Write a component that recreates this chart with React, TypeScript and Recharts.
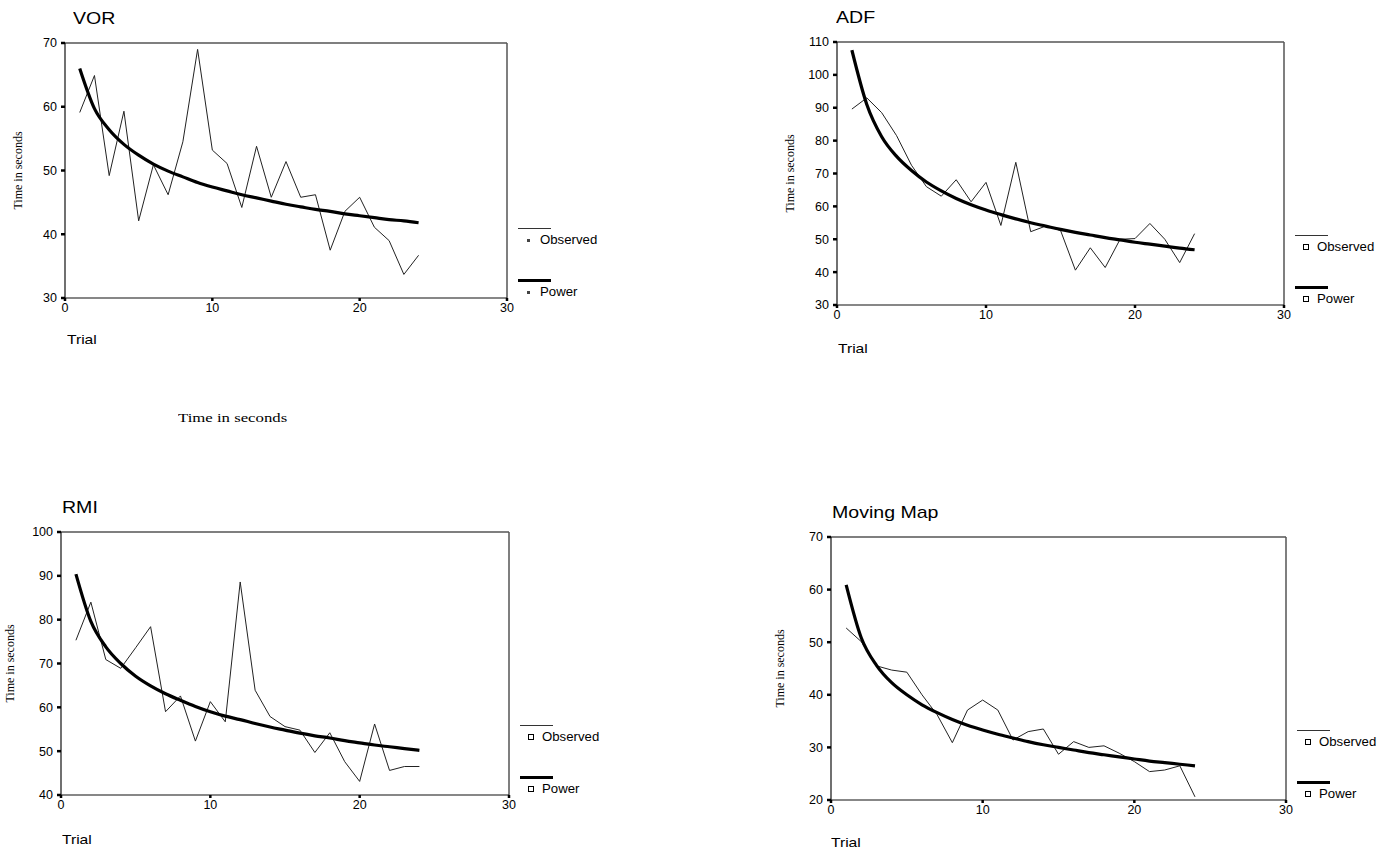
import React from 'react';
import { LineChart, Line, XAxis, YAxis, ReferenceLine } from 'recharts';

// ---------- data ----------
const trials = [1, 2, 3, 4, 5, 6, 7, 8, 9, 10, 11, 12, 13, 14, 15, 16, 17, 18, 19, 20, 21, 22, 23, 24];
const xTicks = [0, 10, 20, 30];

const vorObserved = [59.1, 64.9, 49.2, 59.3, 42.1, 50.9, 46.2, 54.5, 69.0, 53.2, 51.1, 44.2, 53.8, 45.8, 51.4, 45.8, 46.2, 37.5, 43.6, 45.8, 41.1, 39.0, 33.7, 36.7];
const vorPower = [66.0, 59.7, 56.4, 54.1, 52.4, 51.0, 49.9, 49.0, 48.1, 47.4, 46.8, 46.2, 45.7, 45.2, 44.7, 44.3, 43.9, 43.6, 43.2, 42.9, 42.6, 42.3, 42.1, 41.8];
const vorYTicks = [30, 40, 50, 60, 70];

const adfObserved = [89.6, 93.0, 88.5, 81.5, 72.5, 66.0, 63.1, 68.1, 61.4, 67.3, 54.2, 73.4, 52.3, 54.0, 52.7, 40.6, 47.4, 41.4, 50.0, 50.2, 54.8, 50.0, 42.9, 51.7];
const adfPower = [107.5, 91.0, 81.2, 75.2, 70.9, 67.4, 64.7, 62.4, 60.5, 58.9, 57.5, 56.2, 55.0, 54.0, 53.0, 52.1, 51.3, 50.5, 49.8, 49.1, 48.5, 47.9, 47.3, 46.8];
const adfYTicks = [30, 40, 50, 60, 70, 80, 90, 100, 110];

const rmiObserved = [75.3, 84.0, 70.9, 68.9, 73.6, 78.4, 59.0, 62.6, 52.3, 61.3, 56.7, 88.6, 63.9, 57.9, 55.6, 54.8, 49.7, 54.2, 47.6, 43.1, 56.2, 45.6, 46.5, 46.5];
const rmiPower = [90.4, 79.6, 73.8, 70.0, 67.1, 64.9, 63.1, 61.6, 60.2, 59.0, 58.0, 57.2, 56.3, 55.5, 54.8, 54.1, 53.5, 53.0, 52.4, 51.9, 51.4, 51.0, 50.6, 50.2];
const rmiYTicks = [40, 50, 60, 70, 80, 90, 100];

const mmObserved = [52.7, 50.1, 45.5, 44.7, 44.3, 40.0, 36.2, 30.9, 37.1, 39.0, 37.1, 31.4, 33.0, 33.5, 28.7, 31.1, 30.0, 30.3, 28.9, 27.3, 25.4, 25.7, 26.5, 20.6];
const mmPower = [60.9, 50.8, 45.6, 42.3, 40.0, 38.1, 36.6, 35.3, 34.2, 33.3, 32.5, 31.8, 31.1, 30.5, 30.0, 29.5, 29.0, 28.6, 28.2, 27.8, 27.4, 27.1, 26.8, 26.5];
const mmYTicks = [20, 30, 40, 50, 60, 70];

const legendLabels = ['Observed', 'Power'];

// ---------- layout ----------
type PanelCfg = {
  title: string;
  observed: number[];
  power: number[];
  yTicks: number[];
  left: number; top: number; right: number; bottom: number;
  titleX: number; titleY: number;
  trialX: number; trialY: number;
  yLabelDist: number;
  dotMarker: boolean;
};

const panels: PanelCfg[] = [
  { title: 'VOR', observed: vorObserved, power: vorPower, yTicks: vorYTicks,
    left: 65, top: 43, right: 507, bottom: 298, titleX: 73, titleY: 19, trialX: 67, trialY: 340, yLabelDist: 47, dotMarker: true },
  { title: 'ADF', observed: adfObserved, power: adfPower, yTicks: adfYTicks,
    left: 837, top: 42, right: 1284, bottom: 305, titleX: 836, titleY: 18, trialX: 838, trialY: 349, yLabelDist: 47, dotMarker: false },
  { title: 'RMI', observed: rmiObserved, power: rmiPower, yTicks: rmiYTicks,
    left: 61, top: 532, right: 509, bottom: 795, titleX: 62, titleY: 508, trialX: 62, trialY: 840, yLabelDist: 51, dotMarker: false },
  { title: 'Moving Map', observed: mmObserved, power: mmPower, yTicks: mmYTicks,
    left: 831, top: 537, right: 1286, bottom: 800, titleX: 832, titleY: 513, trialX: 831, trialY: 843, yLabelDist: 51, dotMarker: false },
];

const SANS = '"Liberation Sans", Arial, sans-serif';
const SERIF = '"Liberation Serif", "Times New Roman", serif';

function Txt(props: { x: number; cy: number; size: number; family?: string; scale?: number; children: React.ReactNode }) {
  const { x, cy, size, family = SANS, scale = 1, children } = props;
  return (
    <div
      style={{
        position: 'absolute',
        left: x,
        top: cy - size * 0.6,
        fontSize: size,
        lineHeight: `${size * 1.2}px`,
        fontFamily: family,
        color: '#000',
        whiteSpace: 'nowrap',
        transform: `scaleX(${scale})`,
        transformOrigin: 'left center',
      }}
    >
      {children}
    </div>
  );
}

function LegendBlock({ cfg }: { cfg: PanelCfg }) {
  const x0 = cfg.right + 11;
  const rows = [
    { lineY: cfg.bottom - 70, textY: cfg.bottom - 58, thick: false },
    { lineY: cfg.bottom - 18, textY: cfg.bottom - 6, thick: true },
  ];
  return (
    <>
      {rows.map((r, i) => (
        <React.Fragment key={i}>
          <div
            style={{
              position: 'absolute',
              left: x0,
              top: r.lineY - (r.thick ? 1.5 : 0.5),
              width: 33,
              height: r.thick ? 3 : 1,
              background: r.thick ? '#000' : '#333',
            }}
          />
          {cfg.dotMarker ? (
            <div style={{ position: 'absolute', left: x0 + 9, top: r.textY - 1.5, width: 3, height: 3, background: '#444' }} />
          ) : (
            <div style={{ position: 'absolute', left: x0 + 8, top: r.textY - 3, width: 4, height: 4, border: '1px solid #000', boxSizing: 'content-box' }} />
          )}
          <Txt x={x0 + 22} cy={r.textY} size={12} scale={1.1}>{legendLabels[i]}</Txt>
        </React.Fragment>
      ))}
    </>
  );
}

const YW = 60;
const MT = 10;
const MR = 20;
const XH = 30;

function Panel({ cfg }: { cfg: PanelCfg }) {
  const plotW = cfg.right - cfg.left;
  const plotH = cfg.bottom - cfg.top;
  const data = trials.map((t, i) => ({ trial: t, observed: cfg.observed[i], power: cfg.power[i] }));
  const yMin = cfg.yTicks[0];
  const yMax = cfg.yTicks[cfg.yTicks.length - 1];
  const lx = YW - cfg.yLabelDist;
  const ly = MT + plotH / 2;
  const tickStyle = { fontSize: 12.5, fill: '#000', fontFamily: SANS };
  return (
    <>
      <div style={{ position: 'absolute', left: cfg.left - YW, top: cfg.top - MT }}>
        <LineChart
          width={YW + plotW + MR}
          height={MT + plotH + XH}
          data={data}
          margin={{ top: MT, right: MR, bottom: 0, left: 0 }}
        >
          <XAxis
            dataKey="trial"
            type="number"
            domain={[0, 30]}
            ticks={xTicks}
            interval={0}
            height={XH}
            tick={tickStyle}
            tickSize={3}
            tickMargin={2}
            tickLine={{ stroke: '#000', strokeWidth: 2.5 }}
            axisLine={{ stroke: '#111', strokeWidth: 1.2 }}
          />
          <YAxis
            type="number"
            domain={[yMin, yMax]}
            ticks={cfg.yTicks}
            interval={0}
            width={YW}
            tick={tickStyle}
            tickSize={4}
            tickMargin={4}
            tickLine={{ stroke: '#000', strokeWidth: 2.5 }}
            axisLine={{ stroke: '#111', strokeWidth: 1.2 }}
            label={
              <g>
                <text
                  x={lx}
                  y={ly}
                  transform={`rotate(-90 ${lx} ${ly})`}
                  textAnchor="middle"
                  dominantBaseline="central"
                  fontFamily={SERIF}
                  fontSize={12}
                  fill="#000"
                >
                  Time in seconds
                </text>
              </g>
            }
          />
          <ReferenceLine y={yMax} stroke="#555" strokeWidth={1.5} ifOverflow="extendDomain" />
          <ReferenceLine x={30} stroke="#555" strokeWidth={1.5} ifOverflow="extendDomain" />
          <Line
            dataKey="observed"
            type="linear"
            stroke="#222"
            strokeWidth={1}
            dot={false}
            isAnimationActive={false}
          />
          <Line
            dataKey="power"
            type="monotone"
            stroke="#000"
            strokeWidth={3.2}
            dot={false}
            isAnimationActive={false}
          />
        </LineChart>
      </div>
      <Txt x={cfg.titleX} cy={cfg.titleY} size={17} scale={1.15}>{cfg.title}</Txt>
      <Txt x={cfg.trialX} cy={cfg.trialY} size={13} scale={1.2}>Trial</Txt>
      <LegendBlock cfg={cfg} />
    </>
  );
}

export default function App() {
  return (
    <div style={{ position: 'absolute', left: 0, top: 0, width: 1381, height: 850, background: '#fff', overflow: 'hidden' }}>
      {panels.map((p) => (
        <Panel key={p.title} cfg={p} />
      ))}
      <Txt x={178} cy={418} size={12.5} family={SERIF} scale={1.34}>Time in seconds</Txt>
    </div>
  );
}
